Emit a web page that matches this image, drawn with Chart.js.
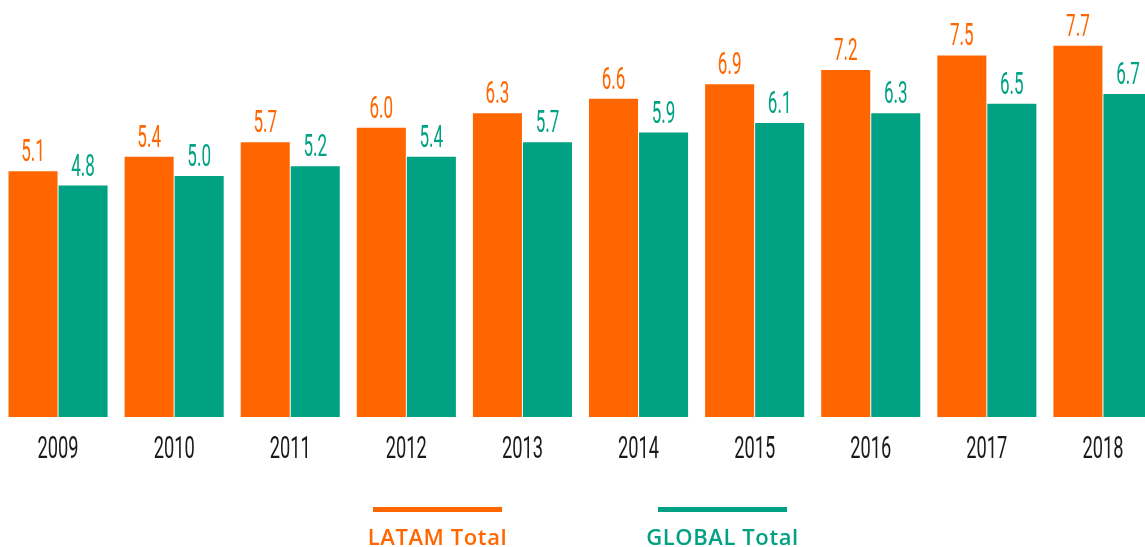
<!DOCTYPE html>
<html>
<head>
<meta charset="utf-8">
<script src="https://cdn.jsdelivr.net/npm/chart.js@4"></script>
<style>
  html, body { margin: 0; padding: 0; background: #fff; overflow: hidden; }
  #wrap { position: relative; width: 1145px; height: 547px; overflow: hidden; }
  #chart_box { position: absolute; left: 0; top: 0; width: 1161px; height: 547px; }
  #legend { position: absolute; left: 0; top: 507px; width: 1160px; display: flex; justify-content: center; gap: 85px; }
  .legend_item { width: 200px; display: flex; flex-direction: column; align-items: center; }
  .legend_line { width: 129px; height: 5px; }
  .legend_text { margin-top: 13px; font: 600 22px "Open Sans", sans-serif; line-height: 22px; letter-spacing: 0.6px; white-space: nowrap; }
</style>
</head>
<body>
<div id="wrap">
  <div id="chart_box"><canvas id="bar_chart" width="1161" height="547"></canvas></div>
  <div id="legend"></div>
</div>
<script>
// 데이터
var years = ['2009', '2010', '2011', '2012', '2013', '2014', '2015', '2016', '2017', '2018'];
var latamTotal = [5.1, 5.4, 5.7, 6.0, 6.3, 6.6, 6.9, 7.2, 7.5, 7.7];
var globalTotal = [4.8, 5.0, 5.2, 5.4, 5.7, 5.9, 6.1, 6.3, 6.5, 6.7];
var seriesNames = ['LATAM Total', 'GLOBAL Total'];
var seriesColors = ['#ff6600', '#00a283'];

// 막대 위 숫자 + 연도 라벨 (좁은 글꼴 흉내)
var condensedLabels = {
  id: 'condensedLabels',
  afterDatasetsDraw: function(chart) {
    var ctx = chart.ctx;
    var xScale = chart.scales.x;
    var yScale = chart.scales.y;
    ctx.save();
    ctx.textAlign = 'center';
    ctx.textBaseline = 'alphabetic';
    ctx.font = '400 31px Roboto';

    chart.data.datasets.forEach(function(ds, i) {
      var meta = chart.getDatasetMeta(i);
      ctx.fillStyle = ds.backgroundColor;
      meta.data.forEach(function(bar, j) {
        ctx.save();
        ctx.translate(bar.x, bar.y - 10);
        ctx.scale(0.55, 1);
        ctx.fillText(ds.data[j].toFixed(1), 0, 0);
        ctx.restore();
      });
    });

    ctx.fillStyle = '#1a1a1a';
    ctx.font = '400 32px Roboto';
    chart.data.labels.forEach(function(label, j) {
      ctx.save();
      ctx.translate(xScale.getPixelForTick(j), yScale.bottom + 41);
      ctx.scale(0.57, 1);
      ctx.fillText(label, 0, 0);
      ctx.restore();
    });
    ctx.restore();
  }
};

var context = document.getElementById('bar_chart').getContext('2d');
var myChart = new Chart(context, {
  type: 'bar',
  data: {
    labels: years,
    datasets: [{
      label: seriesNames[0],
      data: latamTotal,
      backgroundColor: seriesColors[0],
      borderWidth: 0,
      barPercentage: 0.98,
      categoryPercentage: 100 / 116
    }, {
      label: seriesNames[1],
      data: globalTotal,
      backgroundColor: seriesColors[1],
      borderWidth: 0,
      barPercentage: 0.98,
      categoryPercentage: 100 / 116
    }]
  },
  options: {
    responsive: false,
    animation: false,
    layout: { padding: { top: 0, bottom: 122, left: 0, right: 0 } },
    scales: {
      x: {
        grid: { display: false },
        border: { display: false },
        ticks: { display: false }
      },
      y: {
        display: false,
        min: 0,
        max: 8.65
      }
    },
    plugins: {
      legend: { display: false },
      tooltip: { enabled: false }
    }
  },
  plugins: [condensedLabels]
});

// 범례
var legendBox = document.getElementById('legend');
seriesNames.forEach(function(name, i) {
  var item = document.createElement('div');
  item.className = 'legend_item';
  item.innerHTML = '<div class="legend_line" style="background:' + seriesColors[i] + '"></div>' +
    '<div class="legend_text" style="color:' + seriesColors[i] + '">' + name + '</div>';
  legendBox.appendChild(item);
});
</script>
</body>
</html>
